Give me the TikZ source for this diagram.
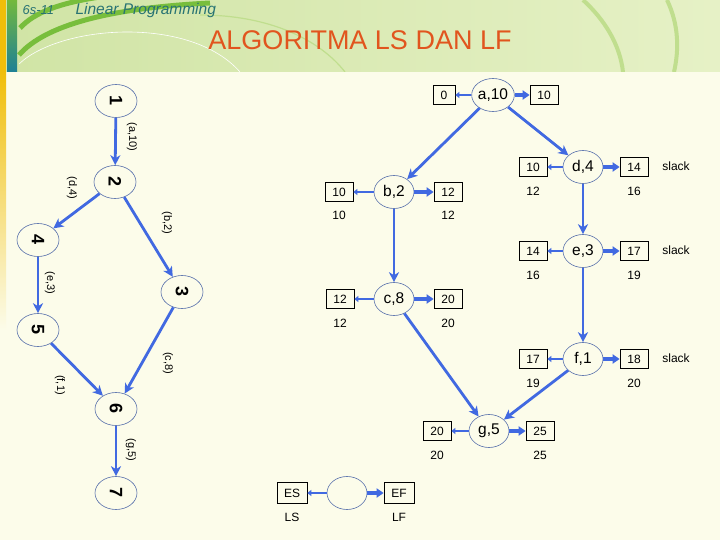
\documentclass[tikz,border=0pt]{standalone}
\usepackage{fontspec}
\setmainfont{Liberation Sans}
\usetikzlibrary{shapes.geometric,arrows.meta}
\definecolor{eblue}{RGB}{65,105,225}
\definecolor{oblue}{RGB}{85,110,170}
\definecolor{cream}{RGB}{252,252,234}
\definecolor{hdrA}{RGB}{208,228,165}
\definecolor{hdrB}{RGB}{230,241,198}
\definecolor{ttl}{RGB}{225,85,30}
\definecolor{tealtxt}{RGB}{40,115,115}
\definecolor{arcg}{RGB}{120,190,60}
\definecolor{arcl}{RGB}{192,222,142}
\definecolor{ystrip}{RGB}{240,190,10}
\definecolor{barA}{RGB}{115,185,60}
\definecolor{barB}{RGB}{30,128,150}
\begin{document}
\begin{tikzpicture}[x=1pt,y=-1pt,
 ev/.style={ellipse,draw=oblue,line width=0.6pt,minimum width=40pt,minimum height=33pt,inner sep=0pt,font=\fontsize{15.5}{15.5}\selectfont},
 lv/.style={ellipse,draw=oblue,line width=0.6pt,minimum width=42pt,minimum height=33pt,inner sep=0pt,font=\fontsize{18}{18}\selectfont\bfseries},
 elbl/.style={font=\fontsize{11}{11}\selectfont,rotate=-90},
 bx/.style={draw=black,line width=0.7pt,minimum width=28pt,minimum height=19pt,inner sep=1pt,font=\fontsize{12}{12}\selectfont},
 sub/.style={font=\fontsize{12}{12}\selectfont},
 edge/.style={draw=eblue,line width=2.8pt,-{Stealth[length=10pt,width=10pt,inset=3pt]}},
 la/.style={draw=eblue,line width=2.8pt,-{Triangle[length=4pt,width=6pt]}},
 ra/.style={draw=eblue,line width=3.4pt,-{Triangle[length=7pt,width=9pt]}},
]
\useasboundingbox (0,0) rectangle (720,540);
% background
\fill[cream] (0,0) rectangle (720,540);
\shade[top color=ystrip, bottom color=cream] (0,72) rectangle (6,330);
\shade[left color=hdrA, right color=hdrB] (0,0) rectangle (720,72);
\fill[ystrip] (0,0) rectangle (6,72);
\shade[top color=barA, bottom color=barB] (7,0) rectangle (17,72);
\begin{scope}
 \clip (17,0) rectangle (720,72);
 \draw[arcg,line width=5pt] (20,28) .. controls (35,12) and (60,3) .. (100,-3);
 \draw[arcg,line width=5pt] (19,55) .. controls (45,25) and (110,8) .. (210,3);
 \draw[white,line width=0.6pt] (19,64) .. controls (60,25) and (190,15) .. (240,72);
 \draw[arcl,line width=1.2pt] (200,15) .. controls (270,15) and (320,40) .. (345,72);
 \draw[arcl,line width=4pt] (583,0) .. controls (605,20) and (620,45) .. (623,72);
 \draw[arcl,line width=4pt] (667,0) .. controls (679,25) and (679,50) .. (674,72);
\end{scope}
% header texts
\node[anchor=west,text=tealtxt,font=\itshape\fontsize{13}{13}\selectfont] (hnum) at (19,10) {6s-11};
\node[anchor=west,text=tealtxt,font=\itshape\fontsize{15.5}{15.5}\selectfont] (hsub) at (72,10) {Linear Programming};
\node[text=ttl,font=\fontsize{27}{27}\selectfont] (title) at (360,40) {ALGORITMA LS DAN LF};

% left rotated network
\node[lv] (n1) at (116,101) {\rotatebox{-90}{1}};
\node[lv] (n2) at (115,182) {\rotatebox{-90}{2}};
\node[lv] (n4) at (38,240) {\rotatebox{-90}{4}};
\node[lv] (n3) at (182,292) {\rotatebox{-90}{3}};
\node[lv] (n5) at (38,330) {\rotatebox{-90}{5}};
\node[lv] (n6) at (116,409) {\rotatebox{-90}{6}};
\node[lv] (n7) at (116,493) {\rotatebox{-90}{7}};
\draw[edge] (n1) -- (n2);
\draw[edge] (n2) -- (n4);
\draw[edge] (n2) -- (n3);
\draw[edge] (n4) -- (n5);
\draw[edge] (n3) -- (n6);
\draw[edge] (n5) -- (n6);
\draw[edge] (n6) -- (n7);
\node[elbl] (l12) at (132,137) {(a,10)};
\node[elbl] (l24) at (72,188) {(d,4)};
\node[elbl] (l23) at (167,223) {(b,2)};
\node[elbl] (l45) at (50,283) {(e,3)};
\node[elbl] (l36) at (168,363) {(c,8)};
\node[elbl] (l56) at (60,385) {(f,1)};
\node[elbl] (l67) at (131,450) {(g,5)};

% right network
\node[ev] (a) at (493,95) {a,10};
\node[bx,minimum width=22pt] (aL) at (444,95) {0};
\node[bx] (aR) at (544,95) {10};

\node[ev] (b) at (394,192) {b,2};
\node[bx] (bL) at (339,192) {10};
\node[bx] (bR) at (448,192) {12};
\node[sub] (bLs) at (339,215) {10};
\node[sub] (bRs) at (448,215) {12};

\node[ev] (d) at (583,167) {d,4};
\node[bx] (dL) at (533,167) {10};
\node[bx] (dR) at (634,167) {14};
\node[sub] (dLs) at (533,191) {12};
\node[sub] (dRs) at (634,191) {16};
\node[sub] (dsl) at (676,166) {slack};

\node[ev] (e) at (583,251) {e,3};
\node[bx] (eL) at (533,251) {14};
\node[bx] (eR) at (634,251) {17};
\node[sub] (eLs) at (533,275) {16};
\node[sub] (eRs) at (634,275) {19};
\node[sub] (esl) at (676,250) {slack};

\node[ev] (c) at (394,299) {c,8};
\node[bx] (cL) at (340,299) {12};
\node[bx] (cR) at (448,299) {20};
\node[sub] (cLs) at (340,323) {12};
\node[sub] (cRs) at (448,323) {20};

\node[ev] (f) at (583,359) {f,1};
\node[bx] (fL) at (533,359) {17};
\node[bx] (fR) at (634,359) {18};
\node[sub] (fLs) at (533,383) {19};
\node[sub] (fRs) at (634,383) {20};
\node[sub] (fsl) at (676,358) {slack};

\node[ev] (g) at (489,431) {g,5};
\node[bx] (gL) at (437,431) {20};
\node[bx] (gR) at (540,431) {25};
\node[sub] (gLs) at (437,455) {20};
\node[sub] (gRs) at (540,455) {25};

\node[ev] (k) at (347,493) {};
\node[bx,minimum width=30pt,minimum height=21pt] (kL) at (292,493) {ES};
\node[bx,minimum width=30pt,minimum height=21pt] (kR) at (399,493) {EF};
\node[sub] (kLs) at (292,517) {LS};
\node[sub] (kRs) at (399,517) {LF};

\foreach \n in {a,b,c,d,e,f,g,k} {
  \draw[la] (\n) -- (\n L);
  \draw[ra] (\n) -- (\n R);
}
\draw[edge] (a) -- (b);
\draw[edge] (a) -- (d);
\draw[edge] (b) -- (c);
\draw[edge] (d) -- (e);
\draw[edge] (e) -- (f);
\draw[edge] (c) -- (g);
\draw[edge] (f) -- (g);
\end{tikzpicture}
\end{document}
